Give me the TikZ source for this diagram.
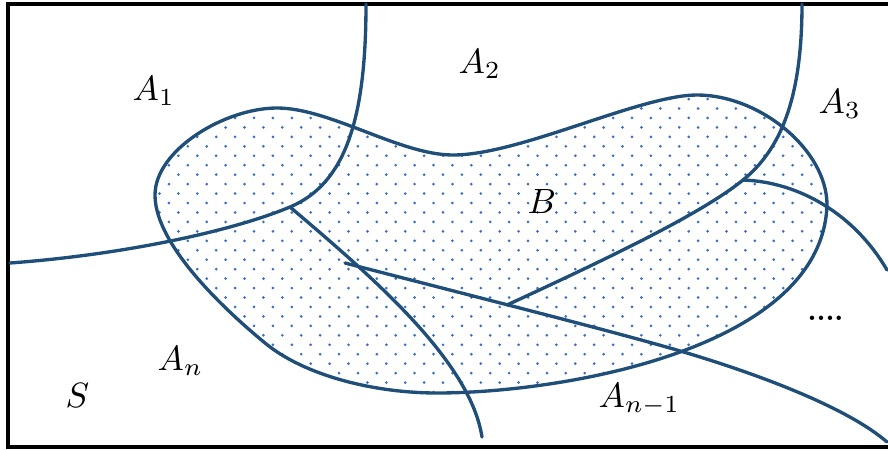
\documentclass[tikz,border=0pt]{standalone}
\usepackage{amsmath}
\usetikzlibrary{calc}
\definecolor{partblue}{RGB}{31,78,121}
\definecolor{dotblue}{RGB}{60,110,195}
\tikzset{
  frame/.style={draw=black, line width=1.8pt},
  part/.style={draw=partblue, line width=1.9pt, line cap=round},
  lbl/.style={scale=2, inner sep=0pt, anchor=base west},
  speckle/.style={path picture={
    \foreach \j in {0,...,33} {
      \pgfmathsetmacro\xo{isodd(\j) ? 159.5 : 150}
      \pgfmathsetmacro\yy{89.6+9.45*\j}
      \foreach \i in {0,...,37}
        \fill[dotblue] (\xo+18.9*\i,\yy) circle (0.85pt);
    }}},
}

\begin{document}
\begin{tikzpicture}[x=0.02cm, y=-0.02cm]
\useasboundingbox (0,0) rectangle (888,450);

% Sample space S
\draw[frame] (8,4) rectangle (895,447);

% Event B (dotted)
\draw[part, speckle] (155,195)
  .. controls (155,150) and (225,108) .. (277,108)
  .. controls (330,108) and (400,155) .. (453,155)
  .. controls (520,155) and (640,95) .. (697,95)
  .. controls (760,95) and (827,150) .. (827,205)
  .. controls (822,350) and (560,393) .. (437,393)
  .. controls (375,393) and (305,376) .. (265,343)
  .. controls (225,310) and (155,245) .. cycle;

% Junctions of the partition
\coordinate (j1) at (290,207);
\coordinate (j3) at (507,305);
\coordinate (j4) at (743,180);

% Partition A_1, ..., A_n
\draw[part] (10,263) .. controls (120,255) and (230,232) .. (j1)
  .. controls (345,184) and (366,120) .. (366,4);
\draw[part] (j1) .. controls (370,275) and (470,360) .. (482,437);
\draw[part] (345,263) .. controls (480,298) and (620,333) .. (687,353)
  .. controls (770,378) and (850,410) .. (887,442);
\draw[part] (802,4) .. controls (802,100) and (780,150) .. (j4)
  .. controls (700,215) and (600,262) .. (j3);
\draw[part] (j4) .. controls (800,182) and (855,215) .. (887,270);

% Labels
\node[lbl] (a1) at (132,100) {$A_1$};
\node[lbl] (a2) at (458,73) {$A_2$};
\node[lbl] (a3) at (818,113) {$A_3$};
\node[lbl] (b) at (527,213) {$B$};
\node[lbl] (an) at (157,370) {$A_n$};
\node[lbl] (s) at (65,407) {$S$};
\node[lbl] (an1) at (598,407) {$A_{n-1}$};
\node[lbl, scale=0.8, font=\bfseries] (dots) at (807,320) {....};

\end{tikzpicture}
\end{document}
